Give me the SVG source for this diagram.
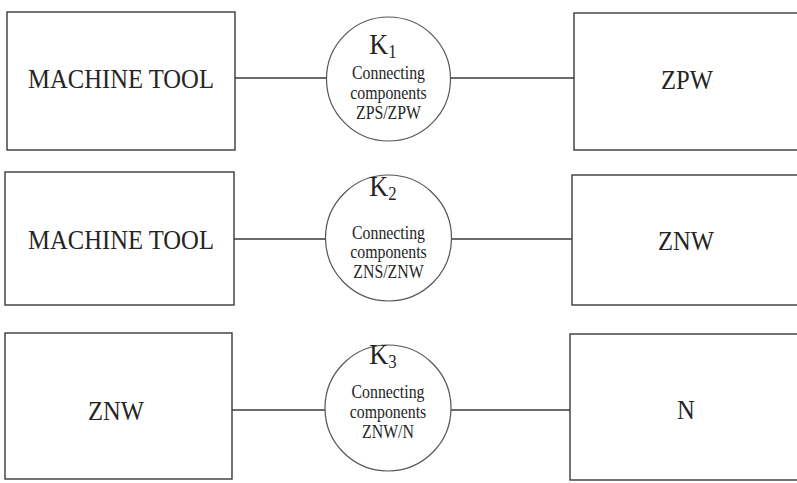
<svg xmlns="http://www.w3.org/2000/svg" width="797" height="483" viewBox="0 0 797 483">
<style>
.box{fill:#fff;stroke:#3a3a3a;stroke-width:1.4}
.circ{fill:#fff;stroke:#555;stroke-width:1.2}
.ln{stroke:#3a3a3a;stroke-width:1.3;fill:none}
text{font-family:"Liberation Serif","Times New Roman",serif;fill:#252525;text-anchor:middle}
.big{font-size:28px}
.k{font-size:30px}
.sub{font-size:19px}
.sm{font-size:18px}
</style>
<rect width="797" height="483" fill="#fff"/>
<g id="connectors">
<line class="ln" x1="235" y1="78" x2="330" y2="78"/>
<line class="ln" x1="447" y1="78" x2="574" y2="78"/>
<line class="ln" x1="234" y1="239" x2="330" y2="239"/>
<line class="ln" x1="447" y1="239" x2="572" y2="239"/>
<line class="ln" x1="232" y1="410" x2="330" y2="410"/>
<line class="ln" x1="446" y1="410" x2="570" y2="410"/>
</g>
<g id="left1"><rect class="box" x="7" y="12" width="228" height="138"/><text class="big" transform="translate(121,88) scale(0.88,1)">MACHINE TOOL</text></g>
<g id="right1"><rect class="box" x="574" y="13" width="230" height="137"/><text class="big" transform="translate(687,89) scale(0.88,1)">ZPW</text></g>
<g id="k1"><circle class="circ" cx="388.5" cy="79" r="62"/>
<text class="k" transform="translate(383,54) scale(0.88,1)">K<tspan class="sub" dy="4">1</tspan></text>
<text class="sm" transform="translate(388.5,79) scale(0.88,1)">Connecting</text>
<text class="sm" transform="translate(388.5,99) scale(0.88,1)">components</text>
<text class="sm" transform="translate(388.5,119) scale(0.88,1)">ZPS/ZPW</text></g>
<g id="left2"><rect class="box" x="5" y="172" width="229" height="133"/><text class="big" transform="translate(121,249) scale(0.88,1)">MACHINE TOOL</text></g>
<g id="right2"><rect class="box" x="572" y="175" width="230" height="130"/><text class="big" transform="translate(686,250) scale(0.88,1)">ZNW</text></g>
<g id="k2"><circle class="circ" cx="388.5" cy="238" r="63"/>
<text class="k" transform="translate(383,196) scale(0.88,1)">K<tspan class="sub" dy="4">2</tspan></text>
<text class="sm" transform="translate(388.5,239) scale(0.88,1)">Connecting</text>
<text class="sm" transform="translate(388.5,258) scale(0.88,1)">components</text>
<text class="sm" transform="translate(388.5,278) scale(0.88,1)">ZNS/ZNW</text></g>
<g id="left3"><rect class="box" x="5" y="333" width="227" height="146"/><text class="big" transform="translate(116,420) scale(0.88,1)">ZNW</text></g>
<g id="right3"><rect class="box" x="570" y="334" width="232" height="146"/><text class="big" transform="translate(686,419) scale(0.88,1)">N</text></g>
<g id="k3"><circle class="circ" cx="388" cy="408" r="63"/>
<text class="k" transform="translate(383,364) scale(0.88,1)">K<tspan class="sub" dy="4">3</tspan></text>
<text class="sm" transform="translate(388,398) scale(0.88,1)">Connecting</text>
<text class="sm" transform="translate(388,418) scale(0.88,1)">components</text>
<text class="sm" transform="translate(388,438) scale(0.88,1)">ZNW/N</text></g>
</svg>
